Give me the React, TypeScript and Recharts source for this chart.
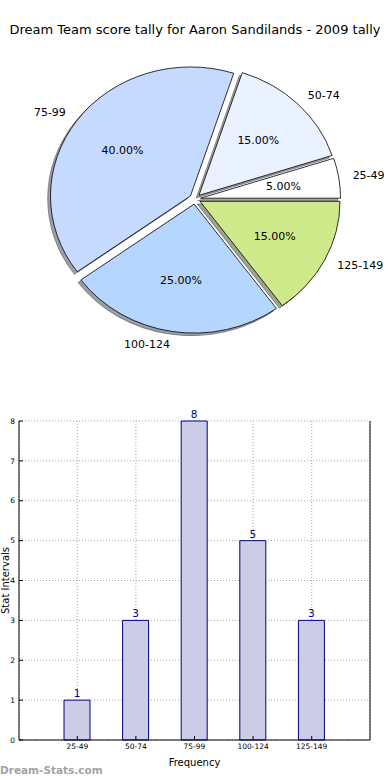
import React from 'react';
import { PieChart, Pie, Cell, BarChart, Bar, XAxis, YAxis, CartesianGrid, LabelList } from 'recharts';

const title = 'Dream Team score tally for Aaron Sandilands - 2009 tally';
const categories = ['25-49', '50-74', '75-99', '100-124', '125-149'];
const counts = [1, 3, 8, 5, 3];
const sliceColors = ['#ffffff', '#eaf1ff', '#c6d9ff', '#b5d6ff', '#cfea8a'];
const yTicks = [0, 1, 2, 3, 4, 5, 6, 7, 8];
const xLabel = 'Frequency';
const yLabel = 'Stat Intervals';
const watermark = 'Dream-Stats.com';

const pieData = categories.map((name, i) => ({ name, value: counts[i] }));
const barData = categories.map((name, i) => ({ name, count: counts[i] }));
const total = counts.reduce((a, b) => a + b, 0);

const RX = 140;
const RY = 129;
const EXPLODE = 0.04;
const RAD = Math.PI / 180;
const FONT = '"DejaVu Sans", sans-serif';

function wedgePath(cx: number, cy: number, a0: number, a1: number) {
  const lo = Math.min(a0, a1);
  const hi = Math.max(a0, a1);
  const x0 = cx + RX * Math.cos(lo * RAD);
  const y0 = cy - RY * Math.sin(lo * RAD);
  const x1 = cx + RX * Math.cos(hi * RAD);
  const y1 = cy - RY * Math.sin(hi * RAD);
  const large = hi - lo > 180 ? 1 : 0;
  return `M${cx},${cy} L${x0},${y0} A${RX},${RY} 0 ${large} 0 ${x1},${y1} Z`;
}

function explodedCenter(cx: number, cy: number, mid: number) {
  return [cx + EXPLODE * RX * Math.cos(mid * RAD), cy - EXPLODE * RY * Math.sin(mid * RAD)];
}

function shadowColor(hex: string) {
  const r = parseInt(hex.slice(1, 3), 16) * 0.3;
  const g = parseInt(hex.slice(3, 5), 16) * 0.3;
  const b = parseInt(hex.slice(5, 7), 16) * 0.3;
  return `rgb(${Math.round(r)},${Math.round(g)},${Math.round(b)})`;
}

const ShadowWedge = (p: any) => {
  const mid = (p.startAngle + p.endAngle) / 2;
  const [ex, ey] = explodedCenter(p.cx, p.cy, mid);
  const col = shadowColor(sliceColors[p.index ?? 0] || '#ffffff');
  return (
    <path
      d={wedgePath(ex - 0.02 * RX, ey + 0.02 * RY, p.startAngle, p.endAngle)}
      fill={col}
      fillOpacity={0.5}
      stroke={col}
      strokeOpacity={0.5}
      strokeWidth={1}
    />
  );
};

const MainWedge = (p: any) => {
  const mid = (p.startAngle + p.endAngle) / 2;
  const [ex, ey] = explodedCenter(p.cx, p.cy, mid);
  return (
    <path
      d={wedgePath(ex, ey, p.startAngle, p.endAngle)}
      fill={sliceColors[p.index ?? 0] || p.fill}
      stroke="#000"
      strokeWidth={0.8}
      strokeLinejoin="round"
    />
  );
};

const renderLabel = (p: any) => {
  const mid = p.midAngle;
  const [ex, ey] = explodedCenter(p.cx, p.cy, mid);
  const c = Math.cos(mid * RAD);
  const s = Math.sin(mid * RAD);
  const lx = ex + 1.1 * RX * c;
  const ly = ey - 1.1 * RY * s;
  const px = ex + 0.6 * RX * c;
  const py = ey - 0.6 * RY * s;
  const name = (p.payload && p.payload.name) || p.name;
  const pct = ((p.value / total) * 100).toFixed(2) + '%';
  return (
    <g>
      <text x={lx} y={ly} textAnchor={c >= 0 ? 'start' : 'end'} dominantBaseline="central" fontSize={11} fill="#000" fontFamily={FONT}>
        {name}
      </text>
      <text x={px} y={py} textAnchor="middle" dominantBaseline="central" fontSize={11} fill="#000" fontFamily={FONT}>
        {pct}
      </text>
    </g>
  );
};

const YLabelContent = (props: any) => {
  const vb = props.viewBox || {};
  const y = (vb.y || 0) + (vb.height || 0) / 2;
  return (
    <text x={5.5} y={y} transform={`rotate(-90, 5.5, ${y})`} textAnchor="middle" dominantBaseline="central" fontSize={10} fill="#000" fontFamily={FONT}>
      {yLabel}
    </text>
  );
};

export default function App() {
  return (
    <div style={{ position: 'absolute', left: 0, top: 0, width: 390, height: 780, background: '#fff', fontFamily: FONT, overflow: 'hidden' }}>
      <div style={{ position: 'absolute', left: 0, top: 22, width: 390, height: 16, lineHeight: '16px', fontSize: 13, textAlign: 'center', color: '#000', whiteSpace: 'nowrap' }}>
        {title}
      </div>
      <div style={{ position: 'absolute', left: 0, top: 0 }}>
        <PieChart width={390} height={370} margin={{ top: 0, right: 0, bottom: 0, left: 0 }}>
          <Pie
            data={pieData}
            dataKey="value"
            nameKey="name"
            cx={195}
            cy={199}
            innerRadius={0}
            outerRadius={RX}
            startAngle={0}
            endAngle={360}
            isAnimationActive={false}
            shape={ShadowWedge}
            label={false}
            labelLine={false}
          >
            {pieData.map((d, i) => (
              <Cell key={d.name} fill={sliceColors[i]} />
            ))}
          </Pie>
          <Pie
            data={pieData}
            dataKey="value"
            nameKey="name"
            cx={195}
            cy={199}
            innerRadius={0}
            outerRadius={RX}
            startAngle={0}
            endAngle={360}
            isAnimationActive={false}
            shape={MainWedge}
            label={renderLabel}
            labelLine={false}
          >
            {pieData.map((d, i) => (
              <Cell key={d.name} fill={sliceColors[i]} />
            ))}
          </Pie>
        </PieChart>
      </div>
      <div style={{ position: 'absolute', left: 0, top: 400 }}>
        <BarChart width={390} height={380} data={barData} margin={{ top: 21, right: 0, bottom: 14, left: 0 }}>
          <CartesianGrid stroke="#a8a8a8" strokeDasharray="1 2" />
          <XAxis
            dataKey="name"
            padding={{ left: 29, right: 29 }}
            height={26}
            tickSize={-4}
            tickMargin={8}
            interval={0}
            axisLine={{ stroke: '#000' }}
            tickLine={{ stroke: '#000' }}
            tick={{ fontSize: 7.5, fill: '#000' }}
            label={{ value: xLabel, position: 'insideBottom', offset: 0, fontSize: 10, fill: '#000' }}
          />
          <XAxis
            xAxisId="top"
            orientation="top"
            dataKey="name"
            padding={{ left: 29, right: 29 }}
            height={0}
            tickSize={-4}
            interval={0}
            axisLine={{ stroke: '#000' }}
            tickLine={{ stroke: '#000' }}
            tickFormatter={() => ''}
          />
          <YAxis
            domain={[0, 8]}
            ticks={yTicks}
            width={19}
            tickSize={-4}
            tickMargin={8}
            axisLine={{ stroke: '#000' }}
            tickLine={{ stroke: '#000' }}
            tick={{ fontSize: 7.5, fill: '#000' }}
            label={<YLabelContent />}
          />
          <YAxis
            yAxisId="right"
            orientation="right"
            domain={[0, 8]}
            ticks={yTicks}
            width={20}
            tickSize={-4}
            axisLine={{ stroke: '#000' }}
            tickLine={{ stroke: '#000' }}
            tickFormatter={() => ''}
          />
          <Bar dataKey="count" fill="#ccccE6" stroke="#000080" strokeWidth={1} barSize={26} isAnimationActive={false}>
            <LabelList dataKey="count" position="top" offset={3} fill="#000080" fontSize={10.5} />
          </Bar>
        </BarChart>
      </div>
      <div style={{ position: 'absolute', left: 0, top: 763, fontSize: 10.5, fontWeight: 'bold', color: '#a3a3a3', lineHeight: '14px', whiteSpace: 'nowrap' }}>
        {watermark}
      </div>
    </div>
  );
}
